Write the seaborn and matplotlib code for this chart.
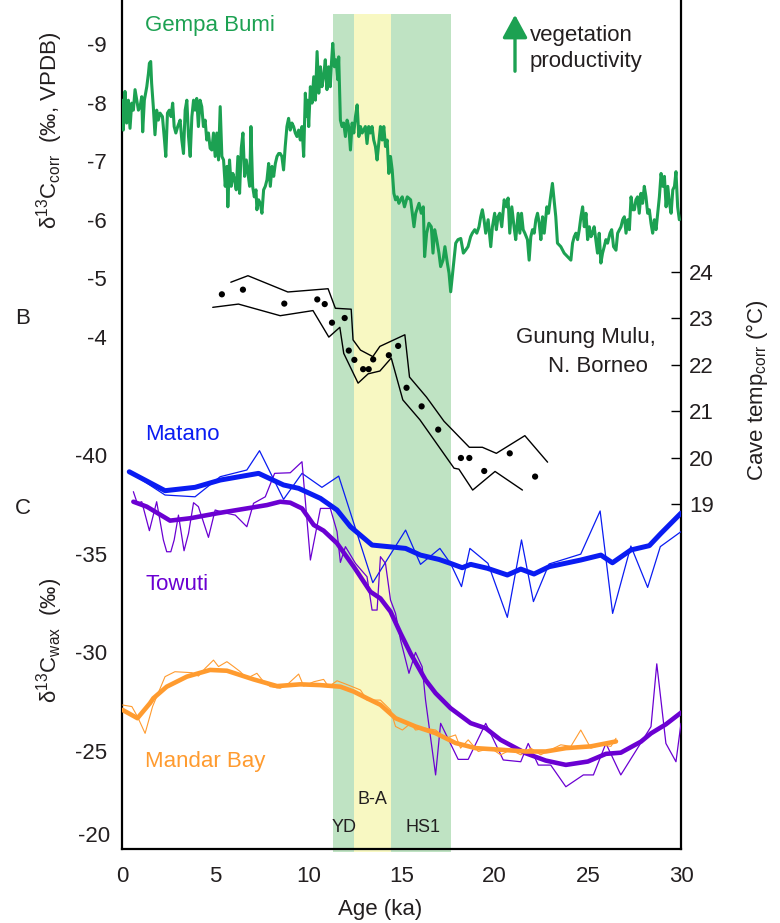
import matplotlib
matplotlib.use("Agg")
import matplotlib.pyplot as plt
import seaborn as sns

# ---------------- data ----------------
# Gempa Bumi stalagmite d13C_corr (permil VPDB) vs age (ka)
gempa_age = [0.00, 0.07, 0.16, 0.25, 0.34, 0.43, 0.52, 0.61, 0.70, 0.79, 0.88, 0.97, 1.06, 1.11, 1.20, 1.33,
             1.42, 1.47, 1.54, 1.59, 1.68, 1.77, 1.86, 1.95, 2.04, 2.17, 2.28, 2.35, 2.44, 2.54, 2.63, 2.72,
             2.80, 2.89, 2.99, 3.12, 3.21, 3.30, 3.39, 3.48, 3.57, 3.66, 3.75, 3.84, 3.92, 4.01, 4.10, 4.19,
             4.28, 4.37, 4.46, 4.55, 4.64, 4.73, 4.82, 4.91, 5.00, 5.09, 5.18, 5.27, 5.36, 5.45, 5.54, 5.63,
             5.68, 5.77, 5.86, 5.95, 6.04, 6.13, 6.22, 6.31, 6.40, 6.49, 6.58, 6.67, 6.76, 6.85, 6.92, 7.01,
             7.10, 7.19, 7.24, 7.33, 7.42, 7.51, 7.60, 7.69, 7.78, 7.87, 7.96, 8.05, 8.14, 8.23, 8.32, 8.41,
             8.49, 8.58, 8.67, 8.76, 8.85, 8.94, 9.03, 9.12, 9.21, 9.30, 9.39, 9.48, 9.57, 9.66, 9.75, 9.84,
             9.89, 9.96, 10.02, 10.11, 10.20, 10.29, 10.38, 10.47, 10.56, 10.65, 10.73, 10.82, 10.91, 11.00,
             11.09, 11.18, 11.24, 11.31, 11.40, 11.49, 11.58, 11.63, 11.72, 11.81, 11.90, 11.99, 12.08, 12.17,
             12.26, 12.35, 12.44, 12.53, 12.62, 12.71, 12.80, 12.89, 12.97, 13.06, 13.15, 13.24, 13.33, 13.42,
             13.51, 13.60, 13.69, 13.78, 13.87, 13.96, 14.05, 14.14, 14.23, 14.32, 14.41, 14.50, 14.59, 14.68,
             14.77, 14.86, 14.95, 15.04, 15.16, 15.31, 15.49, 15.67, 15.76, 15.94, 16.06, 16.17, 16.24, 16.35,
             16.47, 16.60, 16.69, 16.78, 16.89, 17.01, 17.10, 17.23, 17.33, 17.46, 17.55, 17.64, 17.78, 17.91,
             18.03, 18.18, 18.32, 18.44, 18.57, 18.71, 18.80, 18.93, 19.04, 19.16, 19.25, 19.34, 19.43, 19.52,
             19.65, 19.79, 19.88, 20.00, 20.09, 20.18, 20.27, 20.38, 20.51, 20.63, 20.72, 20.81, 20.92, 21.04,
             21.13, 21.26, 21.35, 21.44, 21.53, 21.62, 21.76, 21.85, 21.94, 22.03, 22.12, 22.21, 22.30, 22.39,
             22.48, 22.57, 22.66, 22.80, 22.89, 22.98, 23.10, 23.19, 23.28, 23.37, 23.55, 23.73, 23.91, 24.09,
             24.18, 24.27, 24.36, 24.45, 24.54, 24.63, 24.72, 24.81, 24.90, 24.99, 25.08, 25.17, 25.25, 25.34,
             25.43, 25.52, 25.61, 25.70, 25.79, 25.88, 25.97, 26.06, 26.19, 26.28, 26.38, 26.51, 26.60, 26.78,
             26.87, 26.96, 27.05, 27.14, 27.23, 27.32, 27.41, 27.50, 27.58, 27.67, 27.76, 27.85, 27.94, 28.03,
             28.12, 28.21, 28.30, 28.39, 28.48, 28.57, 28.66, 28.75, 28.84, 28.93, 29.02, 29.11, 29.20, 29.29,
             29.38, 29.47, 29.56, 29.65, 29.73, 29.82, 29.91]
gempa_d13c = [-8.04, -7.53, -8.19, -7.65, -8.04, -7.56, -7.99, -7.87, -8.22, -8.04, -7.87, -7.93, -8.10, -7.50, -8.04, -8.27,
              -8.50, -8.67, -8.70, -8.33, -7.93, -7.45, -7.87, -7.70, -7.82, -7.76, -7.36, -7.08, -7.82, -7.87, -7.76, -7.99,
              -7.59, -7.48, -7.59, -7.70, -7.36, -7.13, -7.87, -8.04, -7.42, -7.08, -7.76, -8.04, -7.87, -8.07, -7.59, -8.04,
              -7.93, -7.59, -7.70, -7.36, -7.48, -7.22, -7.19, -7.48, -7.08, -7.48, -7.02, -7.93, -7.08, -7.02, -6.57, -6.91,
              -6.22, -7.02, -6.57, -6.79, -6.68, -6.51, -7.08, -6.45, -7.22, -7.48, -6.74, -7.02, -6.79, -6.57, -7.59, -6.57,
              -6.39, -6.51, -6.17, -6.34, -6.28, -6.11, -6.51, -6.57, -6.68, -6.96, -6.57, -6.91, -6.74, -6.96, -7.08, -7.13,
              -7.13, -7.08, -6.85, -7.25, -7.59, -7.73, -7.53, -7.65, -7.59, -7.48, -7.42, -7.53, -7.36, -7.59, -7.08, -8.16,
              -7.76, -8.04, -7.59, -8.27, -7.99, -8.44, -8.04, -8.87, -8.16, -8.61, -8.27, -8.44, -8.73, -8.22,
              -8.61, -8.27, -8.67, -9.01, -8.61, -8.73, -8.39, -8.78, -7.70, -7.59, -7.65, -7.42, -7.70, -7.59,
              -7.19, -7.65, -7.48, -7.76, -7.96, -7.42, -7.59, -7.48, -7.53, -7.59, -7.30, -7.59, -7.48, -7.59,
              -7.36, -7.25, -7.02, -7.30, -7.59, -7.36, -7.59, -7.25, -7.36, -6.79, -7.08, -6.85, -6.45, -6.34,
              -6.39, -6.28, -6.34, -6.39, -6.22, -6.39, -6.34, -5.88, -6.11, -6.28, -6.11, -6.22, -5.37, -5.77,
              -5.94, -5.88, -5.43, -5.83, -5.66, -5.43, -5.20, -5.31, -5.54, -5.26, -5.09, -4.77, -5.20, -5.60,
              -5.66, -5.68, -5.43, -5.48, -5.54, -5.71, -5.77, -5.83, -5.77, -5.88, -6.05, -6.17, -6.00, -5.77,
              -6.00, -5.54, -5.88, -6.11, -5.83, -6.05, -6.11, -5.88, -6.34, -6.22, -6.37, -5.77, -6.22, -5.88,
              -5.66, -6.11, -5.77, -6.11, -5.83, -5.77, -5.66, -5.31, -5.71, -5.83, -5.77, -6.00, -6.11, -5.94,
              -5.66, -6.05, -5.77, -6.22, -6.11, -6.34, -6.62, -6.34, -6.05, -5.60, -5.54, -5.43, -5.37, -5.31,
              -5.60, -5.71, -5.77, -5.66, -5.83, -6.05, -6.22, -5.88, -6.11, -5.66, -5.88, -5.71, -5.77, -5.88,
              -5.66, -5.43, -5.77, -5.26, -5.43, -5.54, -5.66, -5.60, -5.77, -5.83, -5.54, -5.48, -5.77, -5.88,
              -6.00, -6.05, -5.77, -6.00, -5.83, -6.39, -6.17, -6.17, -6.34, -6.39, -6.11, -6.45, -6.28, -6.57,
              -6.39, -6.11, -6.17, -5.94, -5.77, -6.00, -5.83, -6.11, -6.39, -6.79, -6.57, -6.74, -6.22, -6.57,
              -6.28, -6.11, -6.51, -6.57, -6.82, -6.22, -6.00]

# Gunung Mulu cave temperature (degC): point estimates and envelope
mulu_age = [5.36, 6.49, 8.71, 10.48, 10.88, 11.27, 11.95, 12.17, 12.47, 12.94, 13.24, 13.48, 14.32, 14.82,
            15.27, 16.08, 16.97, 18.19, 18.64, 19.44, 20.81, 22.17]
mulu_temp = [23.51, 23.61, 23.31, 23.40, 23.30, 22.90, 23.00, 22.30, 22.10, 21.90, 21.90, 22.11, 22.20, 22.40,
             21.50, 21.10, 20.60, 19.99, 19.99, 19.71, 20.09, 19.59]
mulu_hi_age = [5.84, 6.76, 8.90, 11.06, 11.45, 12.30, 12.40, 12.80, 13.46, 13.84, 15.18, 15.43, 16.34, 17.28,
               18.64, 19.34, 20.09, 21.62, 22.84]
mulu_hi_temp = [23.77, 23.91, 23.56, 23.63, 23.21, 23.19, 22.53, 22.31, 22.17, 22.39, 22.64, 21.73, 21.30, 20.78,
                20.22, 20.22, 20.09, 20.47, 19.90]
mulu_lo_age = [4.87, 6.25, 8.49, 10.25, 11.10, 11.69, 11.90, 12.67, 13.21, 13.84, 14.45, 15.07, 15.99, 17.82,
               18.08, 18.82, 20.02, 21.49]
mulu_lo_temp = [23.23, 23.30, 23.05, 23.16, 22.59, 22.80, 22.24, 21.60, 21.80, 21.86, 22.14, 21.24, 20.81, 19.77,
                19.75, 19.30, 19.70, 19.30]

# Leaf-wax d13C (permil): raw records and smoothed curves
matano_age = [0.39, 2.31, 3.92, 5.27, 6.70, 7.38, 8.67, 9.66, 10.73, 11.63, 13.46, 15.22, 16.02, 17.06, 17.63,
              18.22, 18.67, 19.64, 20.68, 21.44, 22.08, 22.92, 24.62, 25.66, 26.33, 27.31, 28.21, 28.89, 30.00]
matano_raw = [-39.15, -37.97, -37.88, -38.90, -39.24, -40.22, -37.75, -39.07, -38.36, -38.93, -33.52, -36.19,
              -34.45, -35.26, -34.50, -33.32, -35.26, -34.50, -31.76, -35.69, -32.56, -34.47, -34.97, -37.16,
              -31.96, -35.38, -33.28, -35.35, -36.11]
matano_smooth_age = [0.39, 2.31, 3.92, 5.27, 7.33, 8.67, 9.48, 10.65, 11.54, 12.26, 13.42, 14.50, 15.22, 16.02,
                     17.01, 17.63, 18.26, 18.71, 19.61, 20.68, 21.40, 22.11, 22.92, 24.62, 25.70, 26.32, 27.31,
                     28.30, 28.92, 30.00]
matano_smooth = [-39.15, -38.19, -38.36, -38.73, -39.07, -38.48, -38.31, -37.80, -37.21, -36.36, -35.43, -35.33,
                 -35.26, -34.92, -34.70, -34.50, -34.28, -34.45, -34.25, -33.91, -34.21, -33.96, -34.33, -34.67,
                 -34.92, -34.53, -35.18, -35.40, -36.02, -37.05]

towuti_age = [0.61, 0.82, 1.06, 1.47, 1.86, 2.22, 2.40, 2.62, 2.80, 3.03, 3.33, 3.57, 3.84, 4.10, 4.64, 5.00,
              5.48, 6.08, 6.70, 7.06, 7.69, 8.19, 9.03, 9.66, 10.11, 10.65, 11.18, 11.54, 11.72, 11.99, 12.53,
              13.15, 13.42, 13.69, 13.87, 14.14, 14.41, 14.68, 14.95, 15.40, 15.75, 16.11, 16.29, 16.83, 17.10,
              18.04, 18.58, 19.52, 20.46, 21.40, 21.80, 22.34, 23.01, 23.82, 24.76, 25.30, 25.97, 26.77, 28.39,
              28.70, 29.19, 29.73, 30.00]
towuti_raw = [-38.14, -37.55, -37.63, -36.16, -37.63, -35.69, -35.09, -35.09, -35.69, -36.95, -35.14, -36.02,
              -37.58, -37.38, -35.82, -37.21, -37.07, -36.95, -36.36, -37.55, -37.88, -39.07, -39.10, -39.66,
              -34.67, -37.29, -37.29, -36.11, -34.55, -35.35, -34.50, -33.82, -32.13, -32.13, -34.84, -34.50,
              -32.64, -31.96, -30.61, -28.92, -29.98, -29.25, -27.56, -23.76, -26.38, -24.55, -24.55, -26.38,
              -24.52, -24.43, -25.36, -24.26, -24.26, -23.16, -23.76, -23.76, -25.36, -23.76, -26.21, -29.40,
              -25.36, -24.43, -26.38]
towuti_smooth_age = [0.61, 1.33, 2.58, 3.66, 5.09, 6.70, 7.78, 8.49, 9.03, 9.66, 10.29, 10.82, 11.54, 12.44,
                     13.33, 13.87, 14.41, 14.95, 15.50, 16.29, 16.83, 17.63, 18.71, 19.52, 20.32, 21.67, 22.74,
                     23.82, 25.00, 25.97, 26.77, 27.85, 28.39, 29.19, 30.00]
towuti_smooth = [-37.63, -37.38, -36.67, -36.79, -37.04, -37.29, -37.46, -37.63, -37.58, -37.29, -36.45, -36.16,
                 -35.52, -34.33, -33.06, -32.72, -32.05, -30.95, -29.90, -28.58, -27.91, -27.15, -26.39, -26.13,
                 -25.54, -24.86, -24.49, -24.27, -24.44, -24.83, -24.89, -25.45, -25.87, -26.33, -26.92]

mandar_age = [0.03, 0.53, 0.83, 1.24, 1.64, 2.31, 2.84, 3.75, 4.10, 4.46, 4.91, 5.18, 5.63, 5.99, 6.35, 6.70,
              7.24, 7.60, 7.96, 8.49, 8.85, 9.48, 9.75, 10.29, 10.82, 11.09, 11.54, 11.99, 12.44, 12.80, 13.15,
              13.87, 14.41, 14.68, 15.05, 15.49, 15.75, 16.29, 16.83, 17.37, 17.90, 18.17, 18.58, 19.12, 19.79,
              20.32, 20.86, 21.40, 21.94, 22.47, 23.01, 23.55, 24.09, 24.62, 25.16, 25.70, 26.24, 26.51]
mandar_raw = [-27.31, -27.23, -26.72, -25.87, -27.23, -28.75, -29.00, -28.95, -28.78, -29.17, -29.59, -29.26,
              -29.51, -29.26, -29.00, -28.66, -28.92, -28.49, -28.24, -28.16, -28.33, -28.88, -28.27, -28.49,
              -28.61, -28.24, -28.54, -28.38, -28.21, -28.07, -27.56, -27.56, -27.06, -26.22, -26.04, -26.38,
              -26.04, -26.13, -26.04, -25.62, -25.79, -25.12, -25.54, -24.95, -25.12, -24.78, -25.04, -24.78,
              -25.12, -24.78, -25.04, -25.29, -25.21, -26.04, -25.12, -25.29, -25.21, -25.62]
mandar_smooth_age = [0.03, 0.83, 1.50, 1.68, 2.40, 3.48, 4.73, 5.63, 7.06, 8.32, 9.57, 10.65, 11.72, 12.44,
                     13.15, 13.87, 14.68, 15.75, 16.83, 17.90, 18.98, 20.32, 21.67, 22.74, 23.82, 25.16, 26.51]
mandar_smooth = [-27.06, -26.64, -27.40, -27.65, -28.24, -28.75, -29.09, -29.05, -28.61, -28.27, -28.36, -28.32,
                 -28.24, -27.99, -27.65, -27.32, -26.64, -26.22, -25.88, -25.38, -25.12, -25.04, -24.95, -24.95,
                 -25.12, -25.21, -25.46]

# climate intervals (ka)
yd_span = (11.3, 12.45)
ba_span = (12.45, 14.45)
hs1_span = (14.45, 17.65)

x_ticks = [0, 5, 10, 15, 20, 25, 30]
gempa_ticks = [-9, -8, -7, -6, -5, -4]
temp_ticks = [19, 20, 21, 22, 23, 24]
wax_ticks = [-40, -35, -30, -25]

# ---------------- style ----------------
sns.set_style("white")
plt.rcParams["font.family"] = ["Liberation Sans", "DejaVu Sans"]
plt.rcParams["mathtext.default"] = "regular"
plt.rcParams["axes.unicode_minus"] = False

TXT = "#231f20"
GREEN = "#1ca152"
SHADE_G = "#bfe3c3"
SHADE_Y = "#f8f8c2"
BLUE = "#0a1cf2"
PURPLE = "#6b00d2"
ORANGE = "#ff9b2f"

W, H = 780, 923
fig = plt.figure(figsize=(W / 100, H / 100), dpi=100)


def fx(px):
    return px / W


def fy(py):
    return 1 - py / H


left, right, bottom, top = 122, 681, 849, 0
rect = [fx(left), fy(bottom), fx(right) - fx(left), fy(top) - fy(bottom)]

# main axes: leaf-wax d13C scale
ax = fig.add_axes(rect)
ax.set_xlim(0, 30)
ax.set_ylim(-20, -63.1)
for s in ["left", "bottom", "right"]:
    ax.spines[s].set_linewidth(1.6)
    ax.spines[s].set_color("black")
ax.spines["top"].set_visible(False)
ax.set_facecolor("none")

shade_top = 1 - 14 / 849
for (a, b), c in [(yd_span, SHADE_G), (ba_span, SHADE_Y), (hs1_span, SHADE_G)]:
    ax.axvspan(a, b, ymin=-0.004, ymax=shade_top, color=c, lw=0, zorder=0, clip_on=False)

sns.lineplot(x=matano_age, y=matano_raw, ax=ax, sort=False, estimator=None, color=BLUE, lw=0.9, zorder=3)
sns.lineplot(x=towuti_age, y=towuti_raw, ax=ax, sort=False, estimator=None, color=PURPLE, lw=0.9, zorder=3)
sns.lineplot(x=mandar_age, y=mandar_raw, ax=ax, sort=False, estimator=None, color=ORANGE, lw=0.8, zorder=3)
sns.lineplot(x=matano_smooth_age, y=matano_smooth, ax=ax, sort=False, estimator=None, color=BLUE, lw=3.6, zorder=4)
sns.lineplot(x=towuti_smooth_age, y=towuti_smooth, ax=ax, sort=False, estimator=None, color=PURPLE, lw=3.3, zorder=4)
sns.lineplot(x=mandar_smooth_age, y=mandar_smooth, ax=ax, sort=False, estimator=None, color=ORANGE, lw=3.3, zorder=4)

ax.set_xticks(x_ticks)
ax.set_yticks(wax_ticks)
ax.set_xlabel("")
ax.set_ylabel("")
ax.tick_params(axis="x", direction="in", length=8, width=1.0, pad=12, labelsize=16, colors=TXT)
ax.tick_params(axis="y", direction="in", length=7, width=1.0, pad=11, labelsize=16, colors=TXT)
ax.tick_params(axis="both", color="black")

# top axes: Gempa Bumi d13C scale (left side)
ax2 = fig.add_axes(rect, frameon=False)
ax2.set_xlim(0, 30)
ax2.set_ylim(4.74, -9.75)
sns.lineplot(x=gempa_age, y=gempa_d13c, ax=ax2, sort=False, estimator=None, color=GREEN, lw=2.2)
ax2.set_yticks(gempa_ticks)
ax2.set_xticks([])
ax2.set_xlabel("")
ax2.set_ylabel("")
ax2.tick_params(axis="y", direction="out", length=6, width=1.0, pad=5, labelsize=16, labelcolor=TXT, color="black")

# right axes: cave temperature
ax3 = fig.add_axes(rect, frameon=False)
ax3.set_xlim(0, 30)
ax3.set_ylim(11.58, 29.84)
sns.lineplot(x=mulu_hi_age, y=mulu_hi_temp, ax=ax3, sort=False, estimator=None, color="black", lw=1.0)
sns.lineplot(x=mulu_lo_age, y=mulu_lo_temp, ax=ax3, sort=False, estimator=None, color="black", lw=1.0)
sns.scatterplot(x=mulu_age, y=mulu_temp, ax=ax3, color="black", s=20, edgecolor="none", zorder=5)
ax3.yaxis.tick_right()
ax3.set_yticks(temp_ticks)
ax3.set_xticks([])
ax3.set_xlabel("")
ax3.set_ylabel("")
ax3.tick_params(axis="y", direction="in", length=7, width=1.0, pad=6, labelsize=16, labelcolor=TXT, color="black")

# ---------------- annotations ----------------
fig.text(fx(110), fy(837), "-20", color=TXT, fontsize=16, va="center", ha="right")

fig.text(fx(145), fy(25), "Gempa Bumi", color=GREEN, fontsize=16, va="center", ha="left")
fig.text(fx(530), fy(35), "vegetation", color=TXT, fontsize=16, va="center", ha="left")
fig.text(fx(530), fy(62), "productivity", color=TXT, fontsize=16, va="center", ha="left")
fig.add_artist(matplotlib.patches.FancyArrowPatch(
    (515, H - 74), (515, H - 12), transform=None,
    arrowstyle="-|>,head_width=0.38,head_length=0.7", mutation_scale=20,
    lw=2.4, color=GREEN))

fig.text(fx(15), fy(318), "B", color=TXT, fontsize=16, va="center", ha="left")
fig.text(fx(15), fy(508), "C", color=TXT, fontsize=16, va="center", ha="left")
fig.text(fx(656), fy(338), "Gunung Mulu,", color=TXT, fontsize=16, va="center", ha="right")
fig.text(fx(648), fy(367), "N. Borneo", color=TXT, fontsize=16, va="center", ha="right")

fig.text(fx(145), fy(435), "Matano", color=BLUE, fontsize=16, va="center", ha="left")
fig.text(fx(145), fy(585), "Towuti", color=PURPLE, fontsize=16, va="center", ha="left")
fig.text(fx(145), fy(762), "Mandar Bay", color=ORANGE, fontsize=16, va="center", ha="left")

fig.text(fx(344), fy(828), "YD", color=TXT, fontsize=13, va="center", ha="center")
fig.text(fx(372), fy(800), "B-A", color=TXT, fontsize=13, va="center", ha="center")
fig.text(fx(423), fy(828), "HS1", color=TXT, fontsize=13, va="center", ha="center")

fig.text(fx(50), fy(130), "δ$^{13}$C$_{corr}$  (‰, VPDB)", color=TXT, fontsize=16,
         rotation=90, va="center", ha="center")
fig.text(fx(50), fy(640), "δ$^{13}$C$_{wax}$  (‰)", color=TXT, fontsize=16,
         rotation=90, va="center", ha="center")
fig.text(fx(757), fy(390), "Cave temp$_{corr}$ (°C)", color=TXT, fontsize=16,
         rotation=90, va="center", ha="center")
fig.text(fx(380), fy(910), "Age (ka)", color=TXT, fontsize=16, va="center", ha="center")

fig.savefig("out.png", dpi=100, facecolor="white")
